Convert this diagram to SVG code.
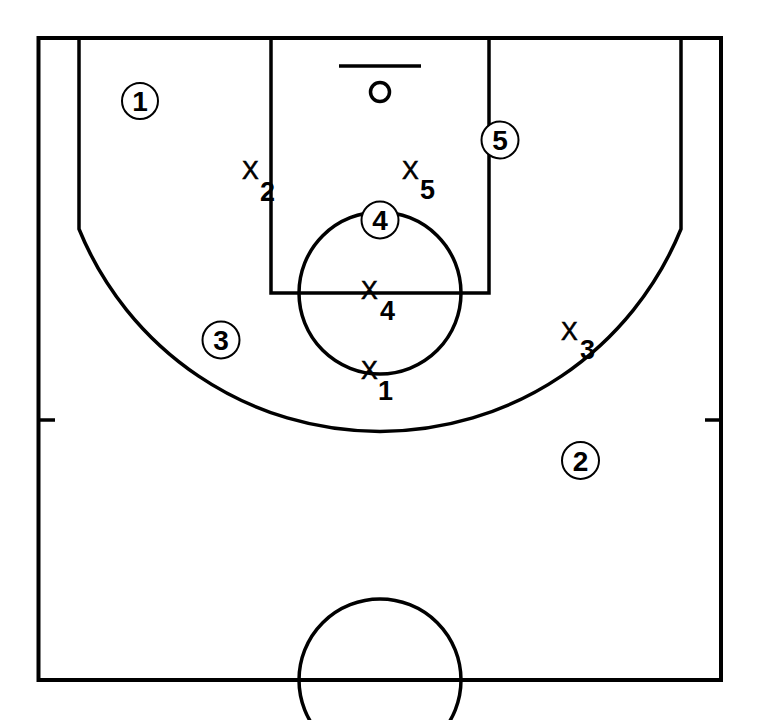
<svg xmlns="http://www.w3.org/2000/svg" width="760" height="720" viewBox="0 0 760 720">
<style>
.court{fill:none;stroke:#000;stroke-width:3.5}
.outer{fill:none;stroke:#000;stroke-width:4}
.pc{fill:#fff;stroke:#000;stroke-width:2}
.pn{font-family:"Liberation Sans",Arial,sans-serif;font-weight:bold;font-size:28px;text-anchor:middle;fill:#000}
.dx{font-family:"Liberation Sans",Arial,sans-serif;font-size:25px;fill:#000;stroke:#000;stroke-width:0.6}
.ds{font-family:"Liberation Sans",Arial,sans-serif;font-weight:bold;font-size:27px;fill:#000}
</style>
<rect width="760" height="720" fill="#fff"/>
<g id="court">
<rect class="outer" x="38.5" y="38" width="682.5" height="642"/>
<path class="court" d="M79 38 V229 A325 325 0 0 0 681 229 V38"/>
<rect class="court" x="271" y="38" width="218" height="255"/>
<circle class="court" cx="380" cy="293" r="81"/>
<line class="court" x1="339" y1="66" x2="421" y2="66" stroke-width="2.5"/>
<circle class="court" cx="380" cy="92" r="9.5"/>
<circle class="court" cx="380" cy="680" r="81"/>
<line class="court" x1="38" y1="420" x2="55" y2="420"/>
<line class="court" x1="705" y1="420" x2="721" y2="420"/>
</g>
<g id="connectors"></g>
<g id="o1"><circle class="pc" cx="140" cy="101" r="18"/><text class="pn" x="140" y="111">1</text></g>
<g id="o2"><circle class="pc" cx="580.5" cy="460.5" r="18.5"/><text class="pn" x="580.5" y="470.5">2</text></g>
<g id="o3"><circle class="pc" cx="221" cy="340" r="18.5"/><text class="pn" x="221" y="350">3</text></g>
<g id="o4"><circle class="pc" cx="380" cy="220" r="18.5"/><text class="pn" x="380" y="230">4</text></g>
<g id="o5"><circle class="pc" cx="500" cy="140" r="18.5"/><text class="pn" x="500" y="150">5</text></g>
<g id="x1"><text class="dx" x="361" y="379">X</text><text class="ds" x="378" y="400">1</text></g>
<g id="x2"><text class="dx" x="242" y="178.5">X</text><text class="ds" x="260" y="200.5">2</text></g>
<g id="x3"><text class="dx" x="561" y="340">X</text><text class="ds" x="580" y="359">3</text></g>
<g id="x4"><text class="dx" x="361" y="298.5">X</text><text class="ds" x="380" y="320">4</text></g>
<g id="x5"><text class="dx" x="402" y="179">X</text><text class="ds" x="420" y="199">5</text></g>
</svg>
